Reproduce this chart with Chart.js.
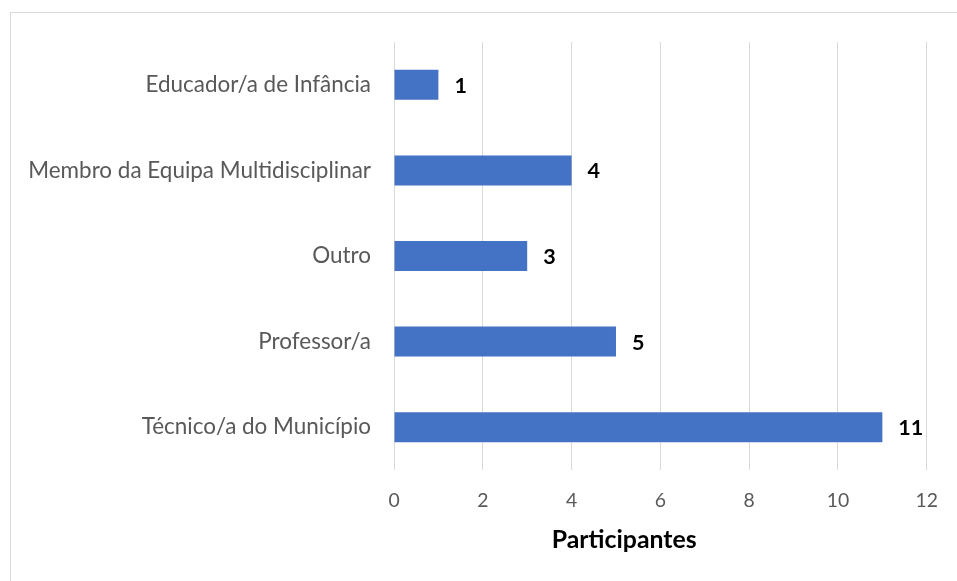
<!DOCTYPE html>
<html>
<head>
<meta charset="utf-8">
<script src="https://cdn.jsdelivr.net/npm/chart.js@4/dist/chart.umd.min.js"></script>
<style>
  html, body { margin: 0; padding: 0; background: #ffffff; }
  #wrap { position: relative; width: 957px; height: 581px; overflow: hidden; background: #fff; }
  #frame { position: absolute; left: 10px; top: 12px; width: 960px; height: 600px;
           border-top: 1px solid #d9d9d9; border-left: 1px solid #d9d9d9; box-sizing: border-box; }
  canvas { position: absolute; left: 0; top: 0; }
</style>
</head>
<body>
<div id="wrap">
  <div id="frame"></div>
  <canvas id="c" width="957" height="581"></canvas>
</div>
<script>
// ---- data ----
const categories = [
  'Educador/a de Infância',
  'Membro da Equipa Multidisciplinar',
  'Outro',
  'Professor/a',
  'Técnico/a do Município'
];
const participants = [1, 4, 3, 5, 11];
const xTickValues = [0, 2, 4, 6, 8, 10, 12];
const xAxisTitle = 'Participantes';

// ---- font sizing (match Calibri-like widths with an installed font) ----
const FONT = 'Lato, "Open Sans", sans-serif';
const mctx = document.createElement('canvas').getContext('2d');
function fitSize(text, weight, target) {
  mctx.font = weight + ' 100px ' + FONT;
  return 100 * target / mctx.measureText(text).width;
}
const catSize = fitSize('Membro da Equipa Multidisciplinar', 'normal', 343);
const tickSize = fitSize('10', 'normal', 22.5);
const titleSize = fitSize('Participantes', 'bold', 145);
const valSize = fitSize('11', 'bold', 25);

// value labels drawn next to each bar, from the bar elements' own positions
const valueLabels = {
  id: 'valueLabels',
  afterDatasetsDraw(chart) {
    const ctx = chart.ctx;
    const meta = chart.getDatasetMeta(0);
    ctx.save();
    ctx.font = 'bold ' + valSize + 'px ' + FONT;
    ctx.fillStyle = '#000000';
    ctx.textAlign = 'left';
    ctx.textBaseline = 'middle';
    meta.data.forEach((bar, i) => {
      ctx.fillText(String(chart.data.datasets[0].data[i]), bar.x + 16, bar.y + 1);
    });
    ctx.restore();
  }
};

// axis title, placed under the x axis (slightly left of the plot centre, as in the original)
const axisTitle = {
  id: 'axisTitle',
  afterDraw(chart) {
    const ctx = chart.ctx;
    const xs = chart.scales.x;
    ctx.save();
    ctx.font = 'bold ' + titleSize + 'px ' + FONT;
    ctx.fillStyle = '#000000';
    ctx.textAlign = 'center';
    ctx.textBaseline = 'middle';
    ctx.fillText(xAxisTitle, xs.left + (xs.right - xs.left) * 0.432, xs.top + 70);
    ctx.restore();
  }
};

new Chart(document.getElementById('c'), {
  type: 'bar',
  data: {
    labels: categories,
    datasets: [{
      data: participants,
      backgroundColor: '#4472C4',
      borderWidth: 0,
      barPercentage: 0.35,
      categoryPercentage: 1.0
    }]
  },
  options: {
    indexAxis: 'y',
    responsive: false,
    animation: false,
    devicePixelRatio: 1,
    layout: { padding: { top: 42, right: 26, bottom: 0, left: 0 } },
    plugins: { legend: { display: false }, tooltip: { enabled: false } },
    scales: {
      x: {
        min: xTickValues[0],
        max: xTickValues[xTickValues.length - 1],
        afterBuildTicks(scale) { scale.ticks = xTickValues.map(v => ({ value: v })); },
        afterFit(scale) { scale.height = 111; },
        grid: { color: '#d9d9d9', lineWidth: 1, drawTicks: false },
        border: { display: false },
        ticks: {
          color: '#595959',
          padding: 19,
          font: { family: FONT, size: tickSize },
          maxRotation: 0
        },
        title: { display: false }
      },
      y: {
        afterFit(scale) { scale.width = 394; },
        grid: { display: false, drawTicks: false },
        border: { display: false },
        ticks: {
          color: '#595959',
          padding: 23,
          autoSkip: false,
          font: { family: FONT, size: catSize }
        }
      }
    }
  },
  plugins: [valueLabels, axisTitle]
});
</script>
</body>
</html>
